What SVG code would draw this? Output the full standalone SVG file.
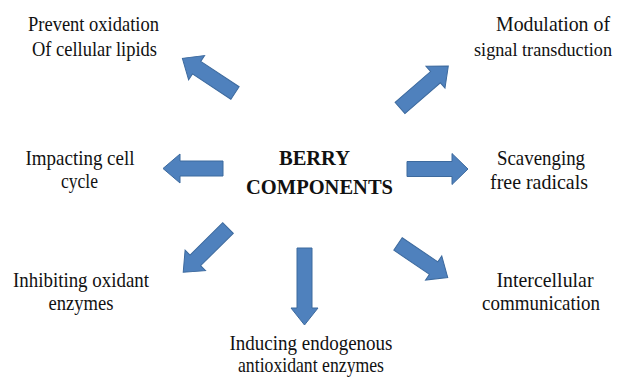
<svg xmlns="http://www.w3.org/2000/svg" width="619" height="378" viewBox="0 0 619 378">
<style>
.lbl{font-family:"Liberation Serif","Times New Roman",serif;font-size:21px;fill:#111;text-anchor:middle}
.ctr{font-family:"Liberation Serif","Times New Roman",serif;font-size:20.5px;font-weight:bold;fill:#111;text-anchor:middle}
.arr{fill:#4f81bd;stroke:#3d6a9e;stroke-width:1}
</style>
<rect width="619" height="378" fill="#fff"/>
<g id="center">
<text class="ctr" x="314.5" y="165">BERRY</text>
<text class="ctr" x="319.5" y="194">COMPONENTS</text>
</g>
<g id="n-prevent">
<text class="lbl" x="93.5" y="31" textLength="131" lengthAdjust="spacingAndGlyphs">Prevent oxidation</text>
<text class="lbl" x="94.5" y="56" textLength="125" lengthAdjust="spacingAndGlyphs">Of cellular lipids</text>
</g>
<g id="n-modulation">
<text class="lbl" x="553" y="31" textLength="114" lengthAdjust="spacingAndGlyphs">Modulation of</text>
<text class="lbl" x="543" y="56" style="font-size:19px" textLength="138" lengthAdjust="spacingAndGlyphs">signal transduction</text>
</g>
<g id="n-cellcycle">
<text class="lbl" x="80" y="165" textLength="109" lengthAdjust="spacingAndGlyphs">Impacting cell</text>
<text class="lbl" x="79.5" y="188" textLength="37" lengthAdjust="spacingAndGlyphs">cycle</text>
</g>
<g id="n-scavenging">
<text class="lbl" x="541" y="165" textLength="88" lengthAdjust="spacingAndGlyphs">Scavenging</text>
<text class="lbl" x="539" y="189" textLength="98" lengthAdjust="spacingAndGlyphs">free radicals</text>
</g>
<g id="n-inhibiting">
<text class="lbl" x="81" y="287" textLength="136" lengthAdjust="spacingAndGlyphs">Inhibiting oxidant</text>
<text class="lbl" x="81" y="310" textLength="65" lengthAdjust="spacingAndGlyphs">enzymes</text>
</g>
<g id="n-inducing">
<text class="lbl" x="311" y="350" textLength="163" lengthAdjust="spacingAndGlyphs">Inducing endogenous</text>
<text class="lbl" x="311" y="372" textLength="146" lengthAdjust="spacingAndGlyphs">antioxidant enzymes</text>
</g>
<g id="n-intercellular">
<text class="lbl" x="545" y="287" textLength="97" lengthAdjust="spacingAndGlyphs">Intercellular</text>
<text class="lbl" x="541" y="310" textLength="118" lengthAdjust="spacingAndGlyphs">communication</text>
</g>
<g id="connectors">
<path class="arr" transform="translate(223,168.5) rotate(180)" d="M0,-7.5 H43 V-14.5 L60,0 L43,14.5 V7.5 H0 Z"/>
<path class="arr" transform="translate(407,169) rotate(0)" d="M0,-7.5 H45 V-15.5 L61,0 L45,15.5 V7.5 H0 Z"/>
<path class="arr" transform="translate(235,93) rotate(213.4)" d="M0,-7.5 H46 V-14.5 L63,0 L46,14.5 V7.5 H0 Z"/>
<path class="arr" transform="translate(400,108) rotate(-41)" d="M0,-7.5 H47 V-14.5 L64,0 L47,14.5 V7.5 H0 Z"/>
<path class="arr" transform="translate(228,228) rotate(135.3)" d="M0,-7.5 H46 V-14.5 L63,0 L46,14.5 V7.5 H0 Z"/>
<path class="arr" transform="translate(304.5,248) rotate(90)" d="M0,-7.5 H60 V-13.5 L77,0 L60,13.5 V7.5 H0 Z"/>
<path class="arr" transform="translate(398,244) rotate(34)" d="M0,-7.5 H43 V-14.5 L60,0 L43,14.5 V7.5 H0 Z"/>
</g>
</svg>
